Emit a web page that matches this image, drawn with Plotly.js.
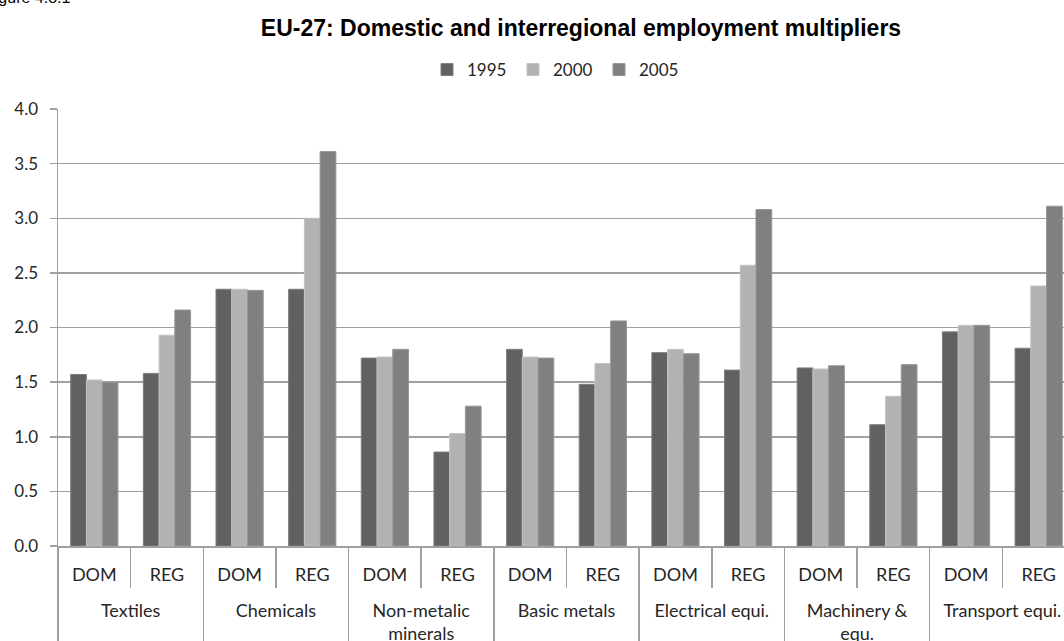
<!DOCTYPE html>
<html>
<head>
<meta charset="utf-8">
<script src="https://cdn.plot.ly/plotly-3.0.1.min.js"></script>
<style>
html, body { margin: 0; padding: 0; overflow: hidden; background: #fff; }
#chart { width: 1076px; height: 680px; }
</style>
</head>
<body>
<div id="chart"></div>
<script>
// ---- data ----
const sectors = ["Textiles", "Chemicals", "Non-metalic<br>minerals", "Basic metals",
                 "Electrical equi.", "Machinery &<br>equ.", "Transport equi."];
const types = ["DOM", "REG"];
const years = ["1995", "2000", "2005"];

const v1995 = [1.57, 1.58, 2.35, 2.35, 1.72, 0.86, 1.80, 1.48, 1.77, 1.61, 1.63, 1.11, 1.96, 1.81];
const v2000 = [1.52, 1.93, 2.35, 3.00, 1.73, 1.03, 1.73, 1.67, 1.80, 2.57, 1.62, 1.37, 2.02, 2.38];
const v2005 = [1.50, 2.16, 2.34, 3.61, 1.80, 1.28, 1.72, 2.06, 1.76, 3.08, 1.65, 1.66, 2.02, 3.11];

const yTickVals = [0, 0.5, 1, 1.5, 2, 2.5, 3, 3.5, 4];
const yTickText = ["0.0", "0.5", "1.0", "1.5", "2.0", "2.5", "3.0", "3.5", "4.0"];

const titleText = "EU-27: Domestic and interregional employment multipliers";
const figureLabel = "Figure 4.8.1";

// ---- build ----
const outer = [], inner = [];
// a leading line break drops the sector names into the lower label row
sectors.forEach(s => types.forEach(t => { outer.push("<br>" + s); inner.push(t); }));

const fills = ["#616161", "#b2b2b2", "#808080"];
const edges = ["#7d7d7d", "#c4c4c4", "#969696"];
const series = [v1995, v2000, v2005];

const W = 1076, H = 680;
const traces = series.map((vals, i) => ({
  type: "bar",
  name: years[i],
  x: [outer, inner],
  y: vals,
  marker: { color: fills[i], line: { color: edges[i], width: 1 } },
  hoverinfo: "x+y+name"
}));

const tickFont = { family: "Lato, 'Open Sans', sans-serif", size: 17, color: "#262626" };
const xTickFont = { family: "Lato, 'Open Sans', sans-serif", size: 18, color: "#262626" };

const layout = {
  width: W, height: H,
  margin: { l: 58, r: 1, t: 109, b: H - 546, pad: 0 },
  paper_bgcolor: "#ffffff",
  plot_bgcolor: "#ffffff",
  barmode: "group",
  bargap: 0.35,
  bargroupgap: 0,
  showlegend: true,
  title: {
    text: "<b>" + titleText + "</b>",
    font: { family: "'Liberation Sans', Arial, sans-serif", size: 23, color: "#000" },
    xref: "container", x: 581 / W, xanchor: "center",
    yref: "container", y: 1 - 28 / H, yanchor: "middle"
  },
  legend: {
    orientation: "h",
    xref: "container", x: 556 / W, xanchor: "center",
    yref: "container", y: 1 - 70 / H, yanchor: "middle",
    font: tickFont,
    itemwidth: 30,
    entrywidth: 41,
    entrywidthmode: "pixels",
    tracegroupgap: 0
  },
  xaxis: {
    type: "multicategory",
    showgrid: false,
    showline: true, linecolor: "#a0a0a0", linewidth: 1.5,
    ticks: "outside", ticklen: 40, tickcolor: "#a0a0a0", tickwidth: 1.5,
    tickson: "boundaries",
    ticklabelstandoff: 12,
    showdividers: true, dividercolor: "#a0a0a0", dividerwidth: 1.5,
    tickfont: xTickFont,
    fixedrange: true
  },
  yaxis: {
    range: [0, 4],
    tickvals: yTickVals, ticktext: yTickText,
    showgrid: true, gridcolor: "#a0a0a0", gridwidth: 1.5,
    showline: true, linecolor: "#a0a0a0", linewidth: 1.5,
    ticks: "outside", ticklen: 7, tickcolor: "#a0a0a0", tickwidth: 1.5,
    ticklabelstandoff: 8,
    tickfont: tickFont,
    zeroline: false,
    fixedrange: true
  },
  annotations: [{
    text: figureLabel,
    xref: "paper", yref: "paper",
    x: -(58 + 17) / (W - 59), xanchor: "left",
    y: (546 - 8) / 437, yanchor: "bottom",
    showarrow: false,
    font: { family: "'Liberation Sans', Arial, sans-serif", size: 16, color: "#000" }
  }]
};

Plotly.newPlot("chart", traces, layout, { displayModeBar: false, staticPlot: true });
</script>
</body>
</html>
